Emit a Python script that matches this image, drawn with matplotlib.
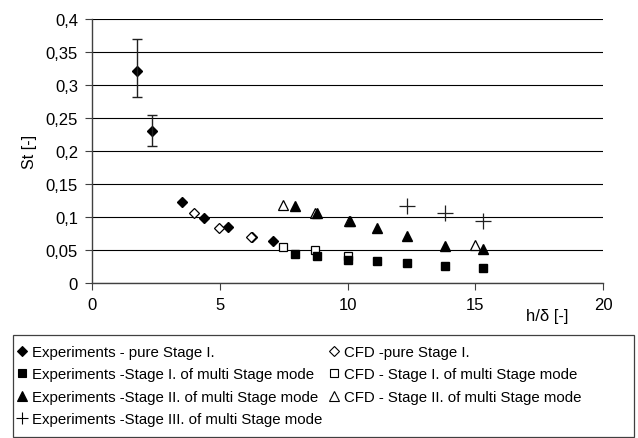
import matplotlib
matplotlib.use("Agg")
import matplotlib.pyplot as plt
from matplotlib.patches import Rectangle
from matplotlib.lines import Line2D
from matplotlib.ticker import FuncFormatter

plt.rcParams['font.family'] = ['Liberation Sans', 'DejaVu Sans']

# Experiments - pure Stage I.
exp1_x = [1.77, 2.35, 3.54, 4.39, 5.32, 6.25, 7.07]
exp1_y = [0.321, 0.231, 0.122, 0.0985, 0.0848, 0.069, 0.0632]
exp1_err_lo = [0.039, 0.023, 0, 0, 0, 0, 0]
exp1_err_hi = [0.049, 0.024, 0, 0, 0, 0, 0]
# CFD - pure Stage I.
cfd1_x = [3.99, 4.98, 6.21]
cfd1_y = [0.106, 0.0833, 0.0697]
# Experiments - Stage I. of multi Stage mode
exp2_x = [7.94, 8.82, 10.0, 11.14, 12.31, 13.8, 15.3]
exp2_y = [0.0435, 0.0405, 0.0348, 0.0333, 0.0298, 0.0262, 0.0232]
# CFD - Stage I. of multi Stage mode
cfd2_x = [7.47, 8.74, 10.0]
cfd2_y = [0.0541, 0.0495, 0.0405]
# Experiments - Stage II. of multi Stage mode
exp3_x = [7.96, 8.82, 10.08, 11.14, 12.31, 13.8, 15.3]
exp3_y = [0.117, 0.106, 0.0935, 0.0829, 0.0717, 0.0565, 0.0515]
# CFD - Stage II. of multi Stage mode
cfd3_x = [7.49, 8.74, 10.04, 15.0]
cfd3_y = [0.118, 0.106, 0.0935, 0.058]
# Experiments - Stage III. of multi Stage mode
exp4_x = [12.31, 13.8, 15.3]
exp4_y = [0.116, 0.106, 0.0944]

labels_exp = [
    "Experiments - pure Stage I.",
    "Experiments -Stage I. of multi Stage mode",
    "Experiments -Stage II. of multi Stage mode",
    "Experiments -Stage III. of multi Stage mode",
]
labels_cfd = [
    "CFD -pure Stage I.",
    "CFD - Stage I. of multi Stage mode",
    "CFD - Stage II. of multi Stage mode",
]

fig = plt.figure(figsize=(6.38, 4.39), dpi=100)
ax = fig.add_axes([92/638, 1-284/439, 511/638, 264/439])

ax.set_xlim(0, 20)
ax.set_ylim(0, 0.4)
ax.set_xticks([0, 5, 10, 15, 20])
ax.set_yticks([i*0.05 for i in range(9)])
ax.yaxis.set_major_formatter(FuncFormatter(lambda v, p: ("%g" % round(v, 2)).replace('.', ',')))
ax.grid(axis='y', color='black', lw=0.8)
ax.set_axisbelow(True)
for s in ['top', 'right']:
    ax.spines[s].set_visible(False)
for s in ['left', 'bottom']:
    ax.spines[s].set_color('#404040')
    ax.spines[s].set_linewidth(1.0)
ax.tick_params(direction='out', length=5, width=0.8, color='#404040', labelsize=12, pad=5)

ax.plot(cfd3_x, cfd3_y, ls='none', marker='^', ms=7, mfc='white', mec='black', mew=0.9)
ax.plot(cfd2_x, cfd2_y, ls='none', marker='s', ms=6, mfc='white', mec='black', mew=0.9)
ax.plot(exp2_x, exp2_y, ls='none', marker='s', ms=6, mfc='black', mec='black')
ax.plot(exp3_x, exp3_y, ls='none', marker='^', ms=7, mfc='black', mec='black')
ax.plot(exp1_x, exp1_y, ls='none', marker='D', ms=5.5, mfc='black', mec='black')
ax.errorbar(exp1_x[:2], exp1_y[:2], yerr=[exp1_err_lo[:2], exp1_err_hi[:2]], fmt='none',
            ecolor='#202020', elinewidth=1.0, capsize=3.5, capthick=1.0)
ax.plot(cfd1_x, cfd1_y, ls='none', marker='D', ms=5.5, mfc='white', mec='black', mew=0.9)
ax.plot(exp4_x, exp4_y, ls='none', marker='+', ms=12, mec='#202020', mew=0.9)

ax.set_ylabel("St [-]", fontsize=11.5, labelpad=6)
ax.text(17.8, -0.05, "h/δ [-]", fontsize=12, ha='center', va='center', transform=ax.transData)

# legend box
fig.patches.append(Rectangle((13/638, 0.002), (634-13)/638, (438.5-336)/439, transform=fig.transFigure,
                             fill=False, ec='#404040', lw=0.9))

def proxy(marker, ms, filled):
    return Line2D([], [], ls='none', marker=marker, ms=ms, mfc='black' if filled else 'white',
                  mec='black', mew=0.8)

h_exp = [proxy('D', 5, True), proxy('s', 5.5, True), proxy('^', 6.5, True), proxy('+', 8, True)]
h_cfd = [proxy('D', 5, False), proxy('s', 5.5, False), proxy('^', 6.5, False)]

kw = dict(loc='upper left', frameon=False, fontsize=10.8, handlelength=0.8, handletextpad=0.3,
          labelspacing=0.56, borderaxespad=0, borderpad=0)
leg1 = fig.legend(h_exp, labels_exp, bbox_to_anchor=(16/638, 1-346/439), **kw)
leg2 = fig.legend(h_cfd, labels_cfd, bbox_to_anchor=(328/638, 1-346/439), **kw)

fig.savefig("out.png", dpi=100)
